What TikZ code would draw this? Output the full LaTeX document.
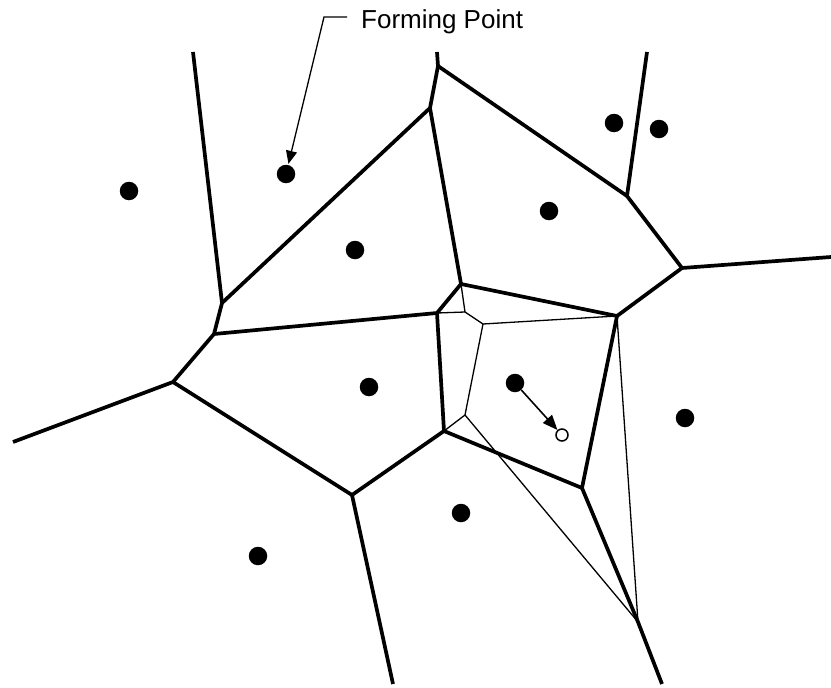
\documentclass[tikz,border=0pt]{standalone}
\usepackage{fontspec}
\setmainfont{Liberation Sans}
\usetikzlibrary{arrows.meta}
\begin{document}
\begin{tikzpicture}[x=1pt,y=-1pt,
  edge/.style={line width=3.7pt, line join=round},
  thinedge/.style={line width=1.3pt, line join=round},
  site/.style={circle, fill=black, draw=none, inner sep=0pt, minimum size=18.5pt},
  newsite/.style={circle, draw=black, fill=white, line width=1.5pt, inner sep=0pt, minimum size=12pt},
  lbl/.style={inner sep=0pt, font=\fontsize{26}{30}\selectfont},
  leader/.style={line width=1.3pt, -{Triangle[length=13pt,width=11pt]}},
  moveto/.style={line width=1.6pt, -{Triangle[length=15pt,width=12pt]}}]
\useasboundingbox (0,0) rectangle (831,688);
% Voronoi vertices
\coordinate (A) at (193,52);
\coordinate (B) at (222,303);
\coordinate (Dtop) at (437,52);
\coordinate (D1) at (438,66);
\coordinate (D2) at (430,108);
\coordinate (E) at (461,284);
\coordinate (F) at (627,196);
\coordinate (Ftop) at (647,52);
\coordinate (G) at (682,268);
\coordinate (H) at (831,257);
\coordinate (I) at (617,316);
\coordinate (J) at (437,313);
\coordinate (K) at (214,334);
\coordinate (L) at (173,382);
\coordinate (Lend) at (13,442);
\coordinate (M) at (352,495);
\coordinate (Mend) at (393,684);
\coordinate (N) at (444,431);
\coordinate (O) at (582,488);
\coordinate (P) at (638,622);
\coordinate (Pend) at (662,684);
\coordinate (R) at (465,312);
\coordinate (Q) at (483,324);
\coordinate (S) at (465,415);
% thin edges (new cell)
\draw[thinedge] (E) -- (R) -- (J);
\draw[thinedge] (R) -- (Q) -- (I);
\draw[thinedge] (Q) -- (S) -- (N);
\draw[thinedge] (S) -- (P);
\draw[thinedge] (I) -- (P);
% thick edges
\draw[edge] (A) -- (B) -- (K) -- (L) -- (Lend);
\draw[edge] (B) -- (D2) -- (D1) -- (Dtop);
\draw[edge] (D1) -- (F) -- (Ftop);
\draw[edge] (F) -- (G) -- (H);
\draw[edge] (G) -- (I) -- (E) -- (D2);
\draw[edge] (E) -- (J) -- (K);
\draw[edge] (J) -- (N) -- (M) -- (L);
\draw[edge] (M) -- (Mend);
\draw[edge] (N) -- (O) -- (I);
\draw[edge] (O) -- (P) -- (Pend);
% sites
\node[site] (s1) at (129,191) {};
\node[site] (fp) at (286,174) {};
\node[site] (s3) at (355,250) {};
\node[site] (s4) at (614,123) {};
\node[site] (s5) at (659,129) {};
\node[site] (s6) at (549,211) {};
\node[site] (s7) at (369,387) {};
\node[site] (s8) at (515,383) {};
\node[site] (s9) at (685,418) {};
\node[site] (s10) at (461,513) {};
\node[site] (s11) at (258,556) {};
\node[newsite] (new) at (562,435) {};
% label and arrows
\node[lbl, anchor=base west] (label) at (361,28) {Forming Point};
\coordinate (lstart) at (347,17);
\coordinate (lbend) at (324,17);
\draw[leader, shorten >=1pt] (lstart) -- (lbend) -- (fp);
\draw[moveto] (s8) -- (new);
\end{tikzpicture}
\end{document}
